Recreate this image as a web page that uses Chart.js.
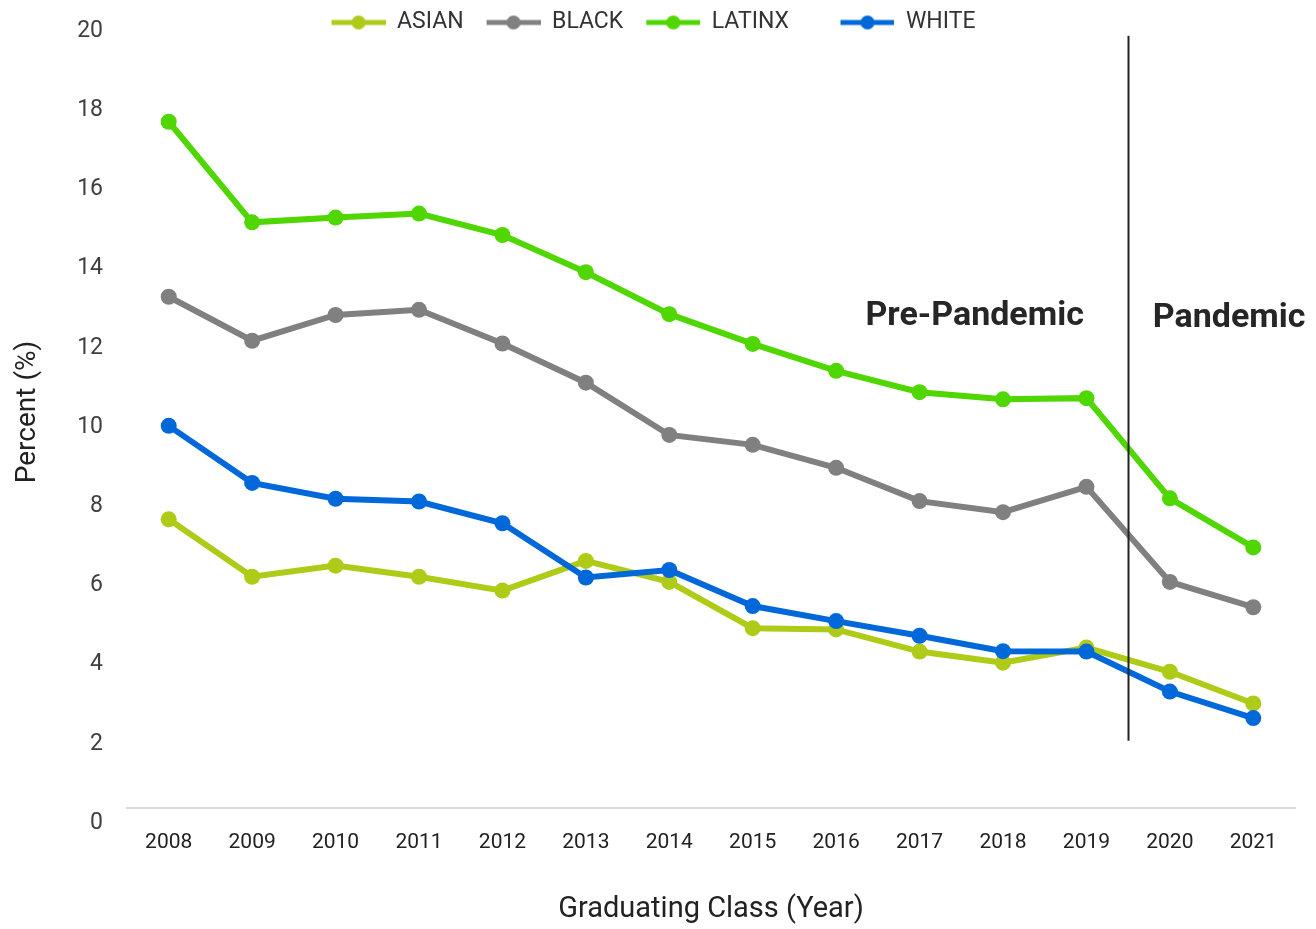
<!DOCTYPE html>
<html>
<head>
<meta charset="utf-8">
<script src="https://cdn.jsdelivr.net/npm/chart.js@4.4.1/dist/chart.umd.min.js"></script>
<style>
  body { margin: 0; background: #fff; }
  #wrap { width: 1316px; height: 929px; }
</style>
</head>
<body>
<div id="wrap"><canvas id="chart" width="1316" height="929"></canvas></div>
<script>
const years = ["2008", "2009", "2010", "2011", "2012", "2013", "2014", "2015", "2016", "2017", "2018", "2019", "2020", "2021"];
const asian  = [7.29, 5.84, 6.12, 5.84, 5.49, 6.24, 5.71, 4.54, 4.51, 3.95, 3.67, 4.05, 3.44, 2.64];
const black  = [12.91, 11.80, 12.45, 12.58, 11.73, 10.74, 9.42, 9.17, 8.59, 7.75, 7.47, 8.11, 5.71, 5.07];
const latinx = [17.33, 14.79, 14.91, 15.01, 14.47, 13.53, 12.47, 11.72, 11.04, 10.50, 10.32, 10.35, 7.82, 6.58];
const white  = [9.65, 8.21, 7.81, 7.74, 7.19, 5.82, 6.01, 5.10, 4.72, 4.35, 3.96, 3.95, 2.94, 2.27];
const seriesNames = ["ASIAN", "BLACK", "LATINX", "WHITE"];
const colors = ["#afcb17", "#808080", "#50d600", "#0068d8"];

// where the pandemic divider and the two period labels sit, in axis units
const dividerAt = 11.5;
const dividerSpan = [1.7, 19.5];
const periodLabels = [
  { text: "Pre-Pandemic", x: 9.66, y: 12.42 },
  { text: "Pandemic", x: 12.71, y: 12.37 },
];

// legend marker: a short line with a dot, like the original
function legendMarker(color) {
  const c = document.createElement("canvas");
  c.width = 66;
  c.height = 16;
  const g = c.getContext("2d");
  g.strokeStyle = color;
  g.lineWidth = 5;
  g.beginPath();
  g.moveTo(12, 8);
  g.lineTo(66, 8);
  g.stroke();
  g.fillStyle = color;
  g.beginPath();
  g.arc(39, 8, 7, 0, Math.PI * 2);
  g.fill();
  return c;
}
const markers = colors.map(legendMarker);

// the legend sits over the top of the plot in the original, so keep its box short
// and let it draw past its own edge
const shortLegend = {
  id: "shortLegend",
  beforeUpdate(chart) {
    const lg = chart.legend;
    if (!lg || lg._patched) return;
    const fit = lg.fit;
    lg.fit = function () {
      fit.call(this);
      this.height = 16;
    };
    lg.draw = function () {
      if (this.options.display) this._draw();
    };
    lg._patched = true;
  },
};

const periods = {
  id: "periods",
  afterDatasetsDraw(chart) {
    const { ctx, scales: { x, y } } = chart;
    ctx.save();
    const px = Math.round(x.getPixelForValue(dividerAt)) + 0.5;
    ctx.strokeStyle = "#222";
    ctx.lineWidth = 2;
    ctx.beginPath();
    ctx.moveTo(px, y.getPixelForValue(dividerSpan[0]));
    ctx.lineTo(px, y.getPixelForValue(dividerSpan[1]));
    ctx.stroke();

    ctx.fillStyle = "#262626";
    ctx.font = "bold 34px Roboto";
    ctx.textAlign = "center";
    ctx.textBaseline = "middle";
    periodLabels.forEach((p) => {
      ctx.fillText(p.text, x.getPixelForValue(p.x), y.getPixelForValue(p.y));
    });
    ctx.restore();
  },
};

const values = [asian, black, latinx, white];
const drawOrder = [4, 3, 2, 1];

new Chart(document.getElementById("chart"), {
  type: "line",
  data: {
    labels: years,
    datasets: seriesNames.map((name, i) => ({
      label: name,
      data: values[i],
      order: drawOrder[i],
      borderColor: colors[i],
      backgroundColor: colors[i],
      pointBackgroundColor: colors[i],
      pointBorderWidth: 0,
      pointRadius: 8,
      borderWidth: 6,
      tension: 0,
    })),
  },
  options: {
    responsive: false,
    animation: false,
    layout: { padding: { top: 0, left: 0, right: 21, bottom: 0 } },
    plugins: {
      tooltip: { enabled: false },
      legend: {
        position: "top",
        labels: {
          usePointStyle: true,
          pointStyleWidth: 66,
          padding: 11,
          color: "#333",
          font: { family: "Roboto", size: 23 },
          generateLabels(chart) {
            const items = Chart.defaults.plugins.legend.labels.generateLabels(chart);
            items.sort((a, b) => a.datasetIndex - b.datasetIndex);
            items.forEach((it) => {
              it.pointStyle = markers[it.datasetIndex];
              // the original legend leaves a wider gap after LATINX
              if (it.text === "LATINX") it.text += "     ";
            });
            return items;
          },
        },
      },
    },
    scales: {
      x: {
        offset: true,
        grid: { display: false, drawTicks: false },
        border: { display: true, color: "#d9d9d9", width: 2 },
        ticks: { color: "#222", padding: 22, font: { family: "Roboto", size: 21 } },
        title: {
          display: true,
          text: "Graduating Class (Year)",
          color: "#222",
          font: { family: "Roboto", size: 29 },
          padding: { top: 0, bottom: 2 },
        },
        afterFit(s) {
          s.height = 121;
          s.paddingLeft = 0;
          s.paddingRight = 0;
        },
      },
      y: {
        min: 0,
        max: 20,
        grid: { display: false, drawTicks: false },
        border: { display: false },
        ticks: {
          stepSize: 2,
          color: "#404040",
          padding: 24,
          labelOffset: 15,
          font: { family: "Roboto", size: 23 },
        },
        title: {
          display: true,
          text: "Percent (%)",
          color: "#222",
          font: { family: "Roboto", size: 28 },
          padding: { top: 11, bottom: 0 },
        },
        afterFit(s) {
          s.width = 127;
          s.paddingTop = 0;
          s.paddingBottom = 0;
        },
      },
    },
  },
  plugins: [shortLegend, periods],
});
</script>
</body>
</html>
